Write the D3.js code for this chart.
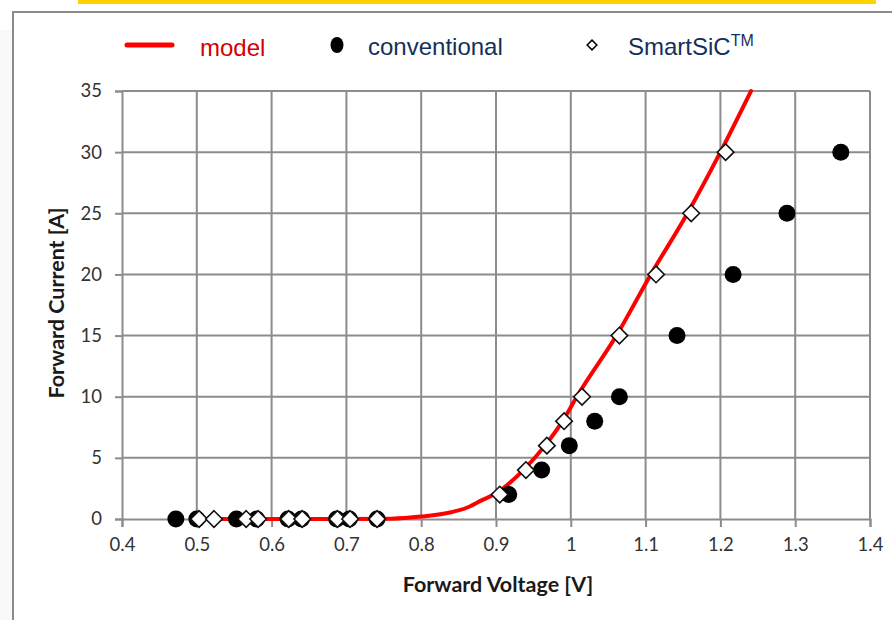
<!DOCTYPE html>
<html>
<head>
<meta charset="utf-8">
<script src="https://cdn.jsdelivr.net/npm/d3@7"></script>
<style>
  body { margin: 0; background: #fff; }
  svg { display: block; }
</style>
</head>
<body>
<div id="chart"></div>
<script>
// forward voltage [V] / forward current [A]
const conventionalV = [0.472, 0.500, 0.553, 0.580, 0.622, 0.640, 0.687, 0.704, 0.741,
                       0.917, 0.961, 0.998, 1.032, 1.065, 1.142, 1.217, 1.289, 1.361];
const conventionalI = [0, 0, 0, 0, 0, 0, 0, 0, 0,
                       2, 4, 6, 8, 10, 15, 20, 25, 30];

const smartV = [0.503, 0.523, 0.566, 0.582, 0.623, 0.641, 0.688, 0.705, 0.741,
                0.905, 0.940, 0.968, 0.991, 1.015, 1.065, 1.114, 1.161, 1.207];
const smartI = [0, 0, 0, 0, 0, 0, 0, 0, 0,
                2, 4, 6, 8, 10, 15, 20, 25, 30];

const modelV = [0.50, 0.60, 0.70, 0.76, 0.80, 0.84, 0.86, 0.88, 0.90, 0.9365,
                0.9655, 0.989, 1.008, 1.061, 1.107, 1.156, 1.200, 1.241];
const modelI = [0, 0, 0, 0.03, 0.2, 0.55, 0.9, 1.5, 2.1, 4,
                6, 8, 10, 15, 20, 25, 30, 35];

const xTicks = [0.4, 0.5, 0.6, 0.7, 0.8, 0.9, 1, 1.1, 1.2, 1.3, 1.4];
const yTicks = [0, 5, 10, 15, 20, 25, 30, 35];

const W = 892, H = 620;
const margin = { top: 91, right: 22, bottom: 101, left: 122 };
const width = W - margin.left - margin.right;
const height = H - margin.top - margin.bottom;

const svg = d3.select("#chart").append("svg")
    .attr("width", W)
    .attr("height", H);

// page decoration: yellow bar, slide frame
svg.append("rect").attr("x", 0).attr("y", 30).attr("width", 12).attr("height", H - 30).attr("fill", "#f9f9f9");
svg.append("rect").attr("x", 78).attr("y", 0).attr("width", 798).attr("height", 4).attr("fill", "#ffd200");
svg.append("path").attr("d", `M13,${H} V12 H${W}`)
    .attr("fill", "none").attr("stroke", "#8a8a8a").attr("stroke-width", 2);

const g = svg.append("g")
    .attr("transform", `translate(${margin.left},${margin.top})`);

const x = d3.scaleLinear().domain([0.4, 1.4]).range([0, width]);
const y = d3.scaleLinear().domain([0, 35]).range([height, 0]);

const gridColor = "#8c8c8c";
const axisFont = "Lato, 'Open Sans', sans-serif";

// grid
g.append("g").selectAll("line")
    .data(yTicks.slice(1))
    .enter().append("line")
    .attr("x1", 0).attr("x2", width)
    .attr("y1", d => y(d)).attr("y2", d => y(d))
    .attr("stroke", gridColor).attr("stroke-width", 2);

g.append("g").selectAll("line")
    .data(xTicks.slice(1))
    .enter().append("line")
    .attr("x1", d => x(d)).attr("x2", d => x(d))
    .attr("y1", 0).attr("y2", height)
    .attr("stroke", gridColor).attr("stroke-width", 2);

// axes
const xAxis = d3.axisBottom(x).tickValues(xTicks).tickSize(8).tickPadding(7)
    .tickFormat(d3.format(""));
const yAxis = d3.axisLeft(y).tickValues(yTicks).tickSize(7).tickPadding(13);

const gx = g.append("g")
    .attr("class", "x-axis")
    .attr("transform", `translate(0,${height})`)
    .call(xAxis);
const gy = g.append("g")
    .attr("class", "y-axis")
    .call(yAxis);

[gx, gy].forEach(a => {
    a.select(".domain").attr("stroke", gridColor).attr("stroke-width", 2);
    a.selectAll(".tick line").attr("stroke", gridColor).attr("stroke-width", 2);
    a.selectAll("text")
        .attr("fill", "#333")
        .style("font-family", axisFont)
        .style("font-size", "18.5px");
});
gx.selectAll("text").attr("dy", "0.9em");

// axis labels
g.append("text")
    .attr("text-anchor", "middle")
    .attr("x", width / 2 + 2)
    .attr("y", height + 73)
    .style("font-family", axisFont)
    .style("font-weight", "bold")
    .style("font-size", "21.5px")
    .attr("fill", "#1a1a1a")
    .text("Forward Voltage [V]");

g.append("text")
    .attr("text-anchor", "middle")
    .attr("transform", "rotate(-90)")
    .attr("x", -height / 2 + 2)
    .attr("y", -58)
    .style("font-family", axisFont)
    .style("font-weight", "bold")
    .style("font-size", "21.5px")
    .attr("fill", "#1a1a1a")
    .text("Forward Current [A]");

// model curve
const model = modelV.map((v, i) => ({ v: v, i: modelI[i] }));
const line = d3.line()
    .x(d => x(d.v))
    .y(d => y(d.i))
    .curve(d3.curveMonotoneX);

g.append("path")
    .datum(model)
    .attr("d", line)
    .attr("fill", "none")
    .attr("stroke", "#ff0000")
    .attr("stroke-width", 4)
    .attr("stroke-linecap", "round");

// conventional circles
const conv = conventionalV.map((v, i) => ({ v: v, i: conventionalI[i] }));
g.append("g").selectAll("circle")
    .data(conv)
    .enter().append("circle")
    .attr("cx", d => x(d.v))
    .attr("cy", d => y(d.i))
    .attr("r", 8.5)
    .attr("fill", "#000");

// SmartSiC diamonds
const smart = smartV.map((v, i) => ({ v: v, i: smartI[i] }));
const diamond = d3.symbol().type(d3.symbolDiamond2).size(175);
g.append("g").selectAll("path")
    .data(smart)
    .enter().append("path")
    .attr("d", diamond)
    .attr("transform", d => `translate(${x(d.v)},${y(d.i)})`)
    .attr("fill", "#fff")
    .attr("stroke", "#111")
    .attr("stroke-width", 1.6);

// legend
const legend = svg.append("g").attr("class", "legend");
const legFont = "'Liberation Sans', Arial, sans-serif";

legend.append("line")
    .attr("x1", 127).attr("x2", 172).attr("y1", 45).attr("y2", 45)
    .attr("stroke", "#ff0000").attr("stroke-width", 5).attr("stroke-linecap", "round");
legend.append("text")
    .attr("x", 200).attr("y", 56)
    .style("font-family", legFont).style("font-size", "24px")
    .attr("fill", "#d40000")
    .text("model");

legend.append("ellipse")
    .attr("cx", 337).attr("cy", 45).attr("rx", 6.5).attr("ry", 8)
    .attr("fill", "#000");
legend.append("text")
    .attr("x", 368).attr("y", 55)
    .style("font-family", legFont).style("font-size", "24px")
    .attr("fill", "#14305a")
    .text("conventional");

legend.append("path")
    .attr("d", d3.symbol().type(d3.symbolDiamond2).size(60))
    .attr("transform", "translate(592,45)")
    .attr("fill", "#fff").attr("stroke", "#000").attr("stroke-width", 1.5);
const sm = legend.append("text")
    .attr("x", 628).attr("y", 55)
    .style("font-family", legFont).style("font-size", "24px")
    .attr("fill", "#14305a");
sm.append("tspan").text("SmartSiC");
sm.append("tspan").attr("dy", -9).style("font-size", "16px").text("TM");
</script>
</body>
</html>
